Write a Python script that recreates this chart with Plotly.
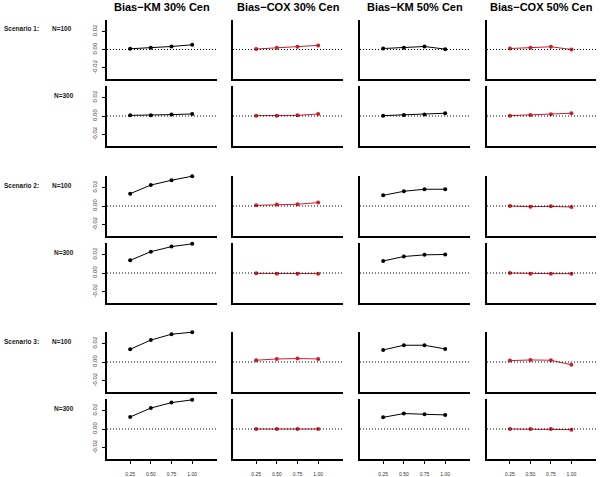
import plotly.graph_objects as go

# ---------------- data ----------------
x_vals = [0.25, 0.50, 0.75, 1.00]
x_tick_labels = ["0.25", "0.50", "0.75", "1.00"]
y_tick_vals = [-0.02, 0.0, 0.02]
y_tick_labels = ["-0.02", "0.00", "0.02"]

col_titles = ["Bias\u2212KM 30% Cen", "Bias\u2212COX 30% Cen", "Bias\u2212KM 50% Cen", "Bias\u2212COX 50% Cen"]
scenario_labels = ["Scenario 1:", "", "Scenario 2:", "", "Scenario 3:", ""]
n_labels = ["N=100", "N=300", "N=100", "N=300", "N=100", "N=300"]

# rows: S1 N=100, S1 N=300, S2 N=100, S2 N=300, S3 N=100, S3 N=300
km30 = [[0.0008, 0.0019, 0.0033, 0.0052],
        [0.0007, 0.0007, 0.0015, 0.0022],
        [0.0133, 0.0226, 0.0278, 0.0322],
        [0.0137, 0.0230, 0.0285, 0.0315],
        [0.0137, 0.0237, 0.0300, 0.0322],
        [0.0130, 0.0226, 0.0285, 0.0315]]
cox30 = [[0.0005, 0.0020, 0.0030, 0.0045],
         [0.0004, 0.0004, 0.0007, 0.0022],
         [0.0007, 0.0015, 0.0019, 0.0037],
         [-0.0004, -0.0007, -0.0007, -0.0007],
         [0.0019, 0.0033, 0.0037, 0.0033],
         [0.0000, 0.0000, 0.0000, 0.0000]]
km50 = [[0.0011, 0.0019, 0.0033, 0.0004],
        [0.0004, 0.0011, 0.0015, 0.0030],
        [0.0115, 0.0159, 0.0181, 0.0181],
        [0.0130, 0.0178, 0.0196, 0.0200],
        [0.0130, 0.0181, 0.0181, 0.0141],
        [0.0126, 0.0167, 0.0159, 0.0152]]
cox50 = [[0.0011, 0.0019, 0.0030, 0.0000],
         [0.0004, 0.0011, 0.0019, 0.0030],
         [0.0000, -0.0007, -0.0004, -0.0011],
         [0.0000, -0.0007, -0.0007, -0.0007],
         [0.0015, 0.0022, 0.0019, -0.0030],
         [0.0000, 0.0000, 0.0000, -0.0007]]

series = [km30, cox30, km50, cox50]
series_colors = ["#000000", "#cc1f2d", "#000000", "#cc1f2d"]

# ---------------- layout geometry ----------------
W, H = 600, 477
col_px = [(107, 217), (233, 343), (360, 470), (487, 596)]
row_px = [(20, 79), (86, 146), (176, 236), (243, 303), (332, 392), (399, 459)]
x_range = [-0.03, 1.30]
y_range = [-0.0324, 0.0324]

fig = go.Figure()
layout = dict(
    width=W, height=H,
    margin=dict(l=0, r=0, t=0, b=0),
    paper_bgcolor="white", plot_bgcolor="white",
    showlegend=False,
    font=dict(family="Liberation Sans, Arial, sans-serif", color="black"),
)
shapes = []
annotations = []

idx = 0
for r in range(6):
    for c in range(4):
        idx += 1
        xa = "x" if idx == 1 else f"x{idx}"
        ya = "y" if idx == 1 else f"y{idx}"
        xkey = "xaxis" if idx == 1 else f"xaxis{idx}"
        ykey = "yaxis" if idx == 1 else f"yaxis{idx}"
        x0, x1 = col_px[c]
        t0, t1 = row_px[r]
        bottom = (r == 5)
        first = (c == 0)
        layout[xkey] = dict(
            domain=[x0 / W, x1 / W], anchor=ya, range=x_range,
            showgrid=False, zeroline=False, showline=True,
            linecolor="black", linewidth=1.5,
            ticks="outside" if bottom else "", ticklen=3, tickwidth=1, tickcolor="black",
            tickvals=x_vals, ticktext=x_tick_labels,
            showticklabels=bottom, tickfont=dict(size=5, color="#333"),
            ticklabelstandoff=6,
        )
        layout[ykey] = dict(
            domain=[1 - t1 / H, 1 - t0 / H], anchor=xa, range=y_range,
            showgrid=False, zeroline=False, showline=True,
            linecolor="black", linewidth=1.5,
            ticks="outside" if first else "", ticklen=3, tickwidth=1, tickcolor="black",
            tickvals=y_tick_vals, ticktext=y_tick_labels,
            showticklabels=first, tickangle=-90,
            tickfont=dict(size=6, color="#444"),
            ticklabelstandoff=3,
        )
        shapes.append(dict(type="line", xref=f"{xa} domain", x0=0, x1=1,
                           yref=ya, y0=0, y1=0,
                           line=dict(color="black", width=1, dash="1px,2px")))
        fig.add_trace(go.Scatter(
            x=x_vals, y=series[c][r], xaxis=xa, yaxis=ya,
            mode="lines+markers", cliponaxis=False,
            line=dict(color=series_colors[c], width=1),
            marker=dict(color=series_colors[c], size=4),
        ))

# column titles
for c, title in enumerate(col_titles):
    x0, x1 = col_px[c]
    annotations.append(dict(
        text=f"<b>{title}</b>", xref="paper", yref="paper",
        x=(x0 + x1) / 2 / W, y=1 - 7 / H, xanchor="center", yanchor="middle",
        showarrow=False, font=dict(size=11, color="black"),
    ))

# row labels
for r in range(6):
    t0 = row_px[r][0]
    ypos = 1 - (t0 + 9) / H
    if scenario_labels[r]:
        annotations.append(dict(
            text=f"<b>{scenario_labels[r]}</b>", xref="paper", yref="paper",
            x=2 / W, y=ypos, xanchor="left", yanchor="middle",
            showarrow=False, font=dict(size=6.5, color="#222"),
        ))
    annotations.append(dict(
        text=f"<b>{n_labels[r]}</b>", xref="paper", yref="paper",
        x=(50 if r % 2 == 0 else 52) / W, y=ypos, xanchor="left", yanchor="middle",
        showarrow=False, font=dict(size=6.5, color="#222"),
    ))

layout["shapes"] = shapes
layout["annotations"] = annotations
fig.update_layout(**layout)
fig.write_html("out.html",
               config={"displayModeBar": False},
               post_script="document.body.style.margin='0';document.body.style.padding='0';document.body.style.overflow='hidden';")
